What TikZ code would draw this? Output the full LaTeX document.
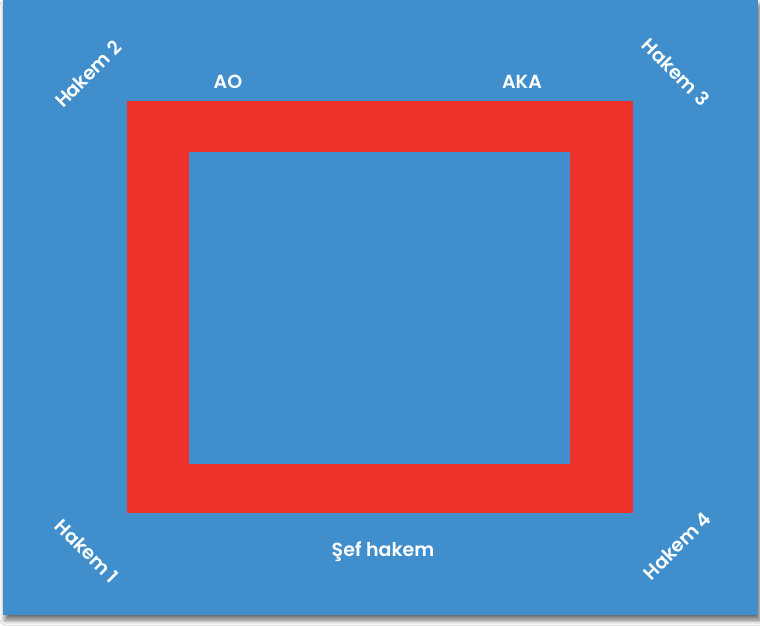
\documentclass[tikz,border=0pt]{standalone}
\usepackage{fontspec}
\setmainfont{Poppins}[UprightFont=* Medium, BoldFont=* SemiBold]
\usetikzlibrary{shadows.blur}
\definecolor{matblue}{HTML}{418ECC}
\definecolor{matred}{HTML}{EF312C}
\begin{document}
\begin{tikzpicture}[x=1pt,y=-1pt,
  lbl/.style={text=white,font=\fontsize{19}{21}\selectfont\bfseries,inner sep=0pt}]
\useasboundingbox (0,0) rectangle (760,626);
\fill[white] (0,0) rectangle (760,626);
\fill[matblue,blur shadow={shadow xshift=2pt,shadow yshift=-5pt,shadow blur steps=8,shadow blur radius=5pt,shadow opacity=60}] (3,0) rectangle (758,615);
\fill[matred] (127,101) rectangle (633,513);
\fill[matblue] (189,152) rectangle (570,464);
\node[lbl] (ao) at (228,82) {AO};
\node[lbl] (aka) at (522,82) {AKA};
\node[lbl,rotate=45] (h2) at (88,74) {Hakem 2};
\node[lbl,rotate=-45] (h3) at (676,72) {Hakem 3};
\node[lbl,rotate=-45] (h1) at (87,551) {Hakem 1};
\node[lbl,rotate=45] (h4) at (677,546) {Hakem 4};
\node[lbl] (sef) at (383,552) {Şef hakem};
\end{tikzpicture}
\end{document}
